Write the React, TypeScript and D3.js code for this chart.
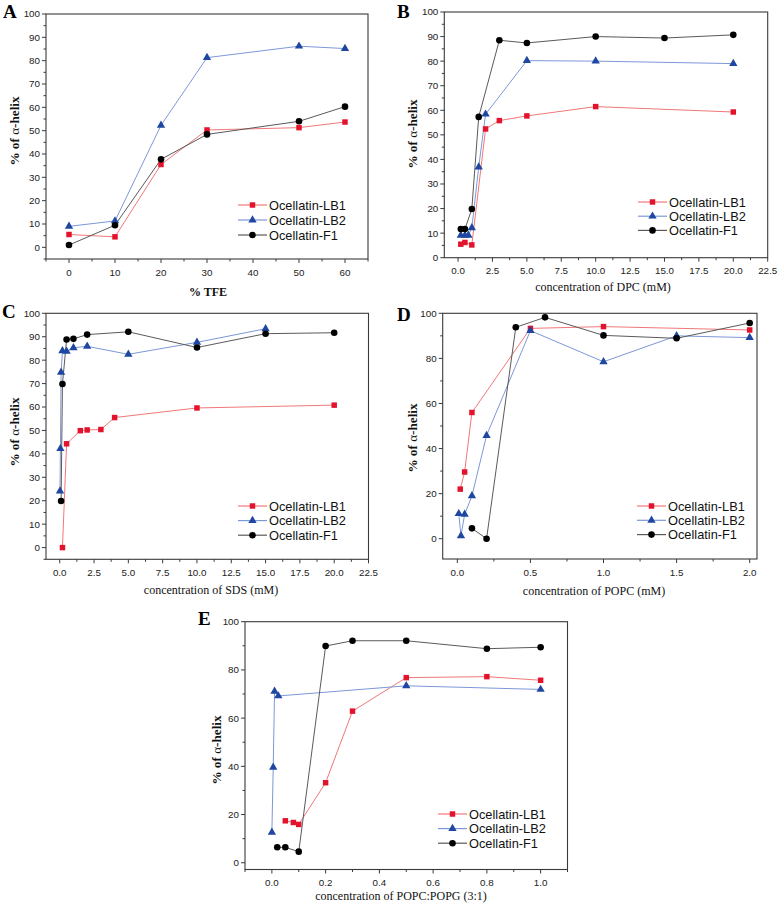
import React from 'react';
import * as d3 from 'd3';

const seriesNames = ['Ocellatin-LB1', 'Ocellatin-LB2', 'Ocellatin-F1'];

// Panel A (% TFE)
const aX = [0, 10, 20, 30, 50, 60];
const aLB1 = [5.5, 4.5, 35.5, 50.3, 51.3, 53.7];
const aLB2 = [9, 11.3, 52.3, 81.3, 86.2, 85.2];
const aF1 = [1, 9.5, 37.7, 48.4, 54, 60.3];

// Panel B (DPC)
const bLB1X = [0.2, 0.5, 1, 2, 3, 5, 10, 20];
const bLB1 = [5.5, 6.2, 5.2, 52.4, 55.8, 57.7, 61.5, 59.3];
const bLB2X = [0.2, 0.5, 0.75, 1, 1.5, 2, 5, 10, 20];
const bLB2 = [9.1, 9.1, 9.1, 12.2, 36.9, 58.4, 80.2, 80, 79];
const bF1X = [0.2, 0.5, 1, 1.5, 3, 5, 10, 15, 20];
const bF1 = [11.7, 11.7, 19.8, 57.3, 88.5, 87.4, 90, 89.4, 90.7];

// Panel C (SDS)
const cLB1X = [0.2, 0.5, 1.5, 2, 3, 4, 10, 20];
const cLB1 = [0, 44.3, 49.9, 50.2, 50.4, 55.5, 59.6, 60.8];
const cLB2X = [0.02, 0.05, 0.1, 0.2, 0.5, 1, 2, 5, 10, 15];
const cLB2 = [24.1, 42.2, 74.8, 84, 83.8, 85.3, 85.9, 82.5, 87.6, 93.4];
const cF1X = [0.1, 0.2, 0.5, 1, 2, 5, 10, 15, 20];
const cF1 = [19.9, 69.8, 88.8, 89.1, 90.9, 92.1, 85.4, 91.3, 91.7];

// Panel D (POPC)
const dLB1X = [0.02, 0.05, 0.1, 0.5, 1, 2];
const dLB1 = [22, 29.6, 56, 93.3, 94.1, 92.6];
const dLB2X = [0.01, 0.025, 0.05, 0.1, 0.2, 0.5, 1, 1.5, 2];
const dLB2 = [11.1, 1.3, 10.8, 19, 45.8, 92.3, 78.5, 90, 89.2];
const dF1X = [0.1, 0.2, 0.4, 0.6, 1, 1.5, 2];
const dF1 = [4.6, 0, 93.8, 98.2, 90.2, 88.9, 95.7];

// Panel E (POPC:POPG)
const eLB1X = [0.05, 0.08, 0.1, 0.2, 0.3, 0.5, 0.8, 1];
const eLB1 = [17.4, 16.7, 15.9, 33.2, 62.9, 76.8, 77.2, 75.7];
const eLB2X = [0, 0.005, 0.01, 0.024, 0.5, 1];
const eLB2 = [12.6, 39.6, 71.1, 69.2, 73.4, 71.9];
const eF1X = [0.02, 0.05, 0.1, 0.2, 0.3, 0.5, 0.8, 1];
const eF1 = [6.4, 6.4, 4.6, 89.9, 92.1, 92.1, 88.8, 89.4];

const lineColors = ['#f07878', '#7d98d8', '#5a5a5a'];
const markColors = ['#e3122d', '#1f46a0', '#000000'];
const symbols = [d3.symbolSquare, d3.symbolTriangle, d3.symbolCircle];
const symSizes = [30, 30, 34];

const fmt0 = d3.format('d');
const fmt1 = d3.format('.1f');

type P = {
  letter: string; lx: number; ly: number;
  box: [number, number, number, number];
  xd: [number, number]; yd: [number, number];
  xMaj: [number, number, number]; xMin: number;
  yMaj: [number, number, number]; yMin: number;
  xf: (v: number) => string;
  series: [number[], number[]][];
  leg: [number, number, number];
  xlabel: string; xlx: number; xly: number; xbold: boolean;
  ylx: number; yly: number;
};

const panels: P[] = [
  {
    letter: 'A', lx: 3, ly: 18, box: [46, 14, 368, 259], xd: [-5, 65], yd: [-5, 100],
    xMaj: [0, 60, 10], xMin: 5, yMaj: [0, 100, 10], yMin: 5, xf: fmt0,
    series: [[aX, aLB1], [aX, aLB2], [aX, aF1]], leg: [238, 205, 15],
    xlabel: '% TFE', xlx: 208, xly: 296, xbold: true, ylx: 19, yly: 131,
  },
  {
    letter: 'B', lx: 397, ly: 18, box: [444.3, 12, 767.7, 257.7], xd: [-1, 22.5], yd: [0, 100],
    xMaj: [0, 22.5, 2.5], xMin: 1.25, yMaj: [0, 100, 10], yMin: 5, xf: fmt1,
    series: [[bLB1X, bLB1], [bLB2X, bLB2], [bF1X, bF1]], leg: [638, 202, 14.2],
    xlabel: 'concentration of  DPC (mM)', xlx: 603, xly: 291, xbold: false, ylx: 417, yly: 134,
  },
  {
    letter: 'C', lx: 2, ly: 318, box: [46, 313.3, 368.5, 559.3], xd: [-1, 22.5], yd: [-5, 100],
    xMaj: [0, 22.5, 2.5], xMin: 1.25, yMaj: [0, 100, 10], yMin: 5, xf: fmt1,
    series: [[cLB1X, cLB1], [cLB2X, cLB2], [cF1X, cF1]], leg: [238, 506, 14.6],
    xlabel: 'concentration of SDS (mM)', xlx: 211, xly: 594, xbold: false, ylx: 19, yly: 432,
  },
  {
    letter: 'D', lx: 397, ly: 321, box: [442.7, 313.3, 757, 559], xd: [-0.1, 2.05], yd: [-9, 100],
    xMaj: [0, 2, 0.5], xMin: 0.25, yMaj: [0, 100, 20], yMin: 10, xf: fmt1,
    series: [[dLB1X, dLB1], [dLB2X, dLB2], [dF1X, dF1]], leg: [637, 506, 14.3],
    xlabel: 'concentration of POPC (mM)', xlx: 594, xly: 595, xbold: false, ylx: 417, yly: 438,
  },
  {
    letter: 'E', lx: 198, ly: 625, box: [245, 621.7, 567.5, 869.5], xd: [-0.1, 1.1], yd: [-2.8, 100],
    xMaj: [0, 1, 0.2], xMin: 0.1, yMaj: [0, 100, 20], yMin: 10, xf: fmt1,
    series: [[eLB1X, eLB1], [eLB2X, eLB2], [eF1X, eF1]], leg: [438, 814, 14.6],
    xlabel: 'concentration of POPC:POPG (3:1)', xlx: 401, xly: 900, xbold: false, ylx: 221, yly: 750,
  },
];

const rng = (a: number, b: number, s: number) => {
  const out: number[] = [];
  const n = Math.round((b - a) / s);
  for (let i = 0; i <= n; i++) out.push(+(a + i * s).toFixed(6));
  return out;
};

const axisColor = '#3a3a3a';
const sans = 'Liberation Sans, Arial, sans-serif';
const serif = 'Liberation Serif, Times New Roman, serif';

function Panel({ p }: { p: P }) {
  const [l, t, r, b] = p.box;
  const x = d3.scaleLinear().domain(p.xd).range([l, r]);
  const y = d3.scaleLinear().domain(p.yd).range([b, t]);
  const eps = 1e-6;
  const inX = (v: number) => v >= p.xd[0] - eps && v <= p.xd[1] + eps;
  const inY = (v: number) => v >= p.yd[0] - eps && v <= p.yd[1] + eps;
  const xMajor = rng(p.xMaj[0], p.xMaj[1], p.xMaj[2]).filter(inX);
  const xMinor = rng(p.xMaj[0] - p.xMaj[2], p.xMaj[1] + p.xMaj[2], p.xMin)
    .filter(v => inX(v) && !xMajor.some(m => Math.abs(m - v) < eps));
  const yMajor = rng(p.yMaj[0], p.yMaj[1], p.yMaj[2]).filter(inY);
  const yMinor = rng(p.yMaj[0] - p.yMaj[2], p.yMaj[1], p.yMin)
    .filter(v => inY(v) && !yMajor.some(m => Math.abs(m - v) < eps));
  const line = d3.line<number>();
  const [lgx, lgy, lgdy] = p.leg;
  return (
    <g>
      <text x={p.lx} y={p.ly} fontFamily={serif} fontWeight="bold" fontSize={19}>{p.letter}</text>
      {/* frame */}
      <rect x={l} y={t} width={r - l} height={b - t} fill="none" stroke={axisColor} strokeWidth={1.1} />
      {xMajor.map(v => (
        <g key={'xM' + v}>
          <line x1={x(v)} x2={x(v)} y1={b} y2={b + 4} stroke={axisColor} />
          <text x={x(v)} y={b + 16.5} textAnchor="middle" fontFamily={sans} fontSize={9.8} fill="#222">{p.xf(v)}</text>
        </g>
      ))}
      {xMinor.map(v => (
        <line key={'xm' + v} x1={x(v)} x2={x(v)} y1={b} y2={b + 2.5} stroke={axisColor} />
      ))}
      {yMajor.map(v => (
        <g key={'yM' + v}>
          <line x1={l - 4} x2={l} y1={y(v)} y2={y(v)} stroke={axisColor} />
          <text x={l - 6} y={y(v)} dy="0.35em" textAnchor="end" fontFamily={sans} fontSize={9.8} fill="#222">{fmt0(v)}</text>
        </g>
      ))}
      {yMinor.map(v => (
        <line key={'ym' + v} x1={l - 2.5} x2={l} y1={y(v)} y2={y(v)} stroke={axisColor} />
      ))}
      {/* series lines */}
      {p.series.map((s, i) => (
        <path key={'l' + i}
          d={line(s[0].map((xv, j) => [x(xv), y(s[1][j])] as [number, number]) as any) || ''}
          fill="none" stroke={lineColors[i]} strokeWidth={1} />
      ))}
      {/* markers */}
      {p.series.map((s, i) => (
        <g key={'m' + i} fill={markColors[i]}>
          {s[0].map((xv, j) => (
            <path key={j} transform={`translate(${x(xv)},${y(s[1][j])})`}
              d={d3.symbol().type(symbols[i]).size(symSizes[i])() || ''} />
          ))}
        </g>
      ))}
      {/* legend */}
      {seriesNames.map((n, i) => {
        const yy = lgy + i * lgdy;
        return (
          <g key={'lg' + i}>
            <line x1={lgx} x2={lgx + 29} y1={yy} y2={yy} stroke={lineColors[i]} strokeWidth={1.2} />
            <path transform={`translate(${lgx + 14.5},${yy})`} fill={markColors[i]}
              d={d3.symbol().type(symbols[i]).size(symSizes[i])() || ''} />
            <text x={lgx + 31} y={yy} dy="0.36em" fontFamily={sans} fontSize={12.8} fill="#111">{n}</text>
          </g>
        );
      })}
      {/* axis labels */}
      <text x={p.xlx} y={p.xly} textAnchor="middle" fontFamily={serif} fontSize={12}
        fontWeight={p.xbold ? 'bold' : 'normal'} fill="#111">{p.xlabel}</text>
      <text transform={`translate(${p.ylx},${p.yly}) rotate(-90)`} textAnchor="middle"
        fontFamily={serif} fontWeight="bold" fontSize={13.2} fill="#111">
        {'% of  '}<tspan fontWeight="normal">α</tspan>{'-helix'}
      </text>
    </g>
  );
}

export default function App() {
  return (
    <svg width={778} height={904} viewBox="0 0 778 904"
      style={{ position: 'absolute', left: 0, top: 0, background: '#fff' }}>
      <rect x={0} y={0} width={778} height={904} fill="#fff" />
      {panels.map(p => <Panel key={p.letter} p={p} />)}
    </svg>
  );
}
